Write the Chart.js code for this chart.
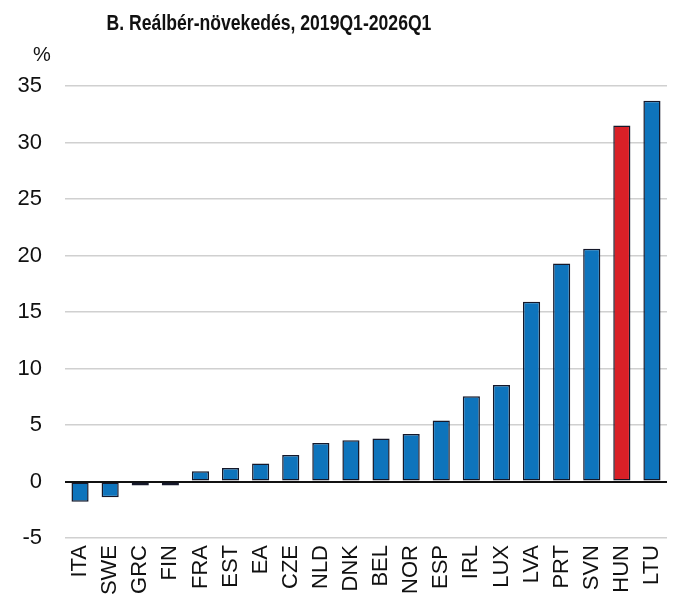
<!DOCTYPE html>
<html>
<head>
<meta charset="utf-8">
<script src="https://cdn.jsdelivr.net/npm/chart.js@4"></script>
<style>
  html, body { margin: 0; padding: 0; background: #fff; }
  #wrap { width: 690px; height: 610px; }
</style>
</head>
<body>
<div id="wrap"><canvas id="chart" width="690" height="610"></canvas></div>
<script>
const countries = ['ITA', 'SWE', 'GRC', 'FIN', 'FRA', 'EST', 'EA', 'CZE', 'NLD', 'DNK',
    'BEL', 'NOR', 'ESP', 'IRL', 'LUX', 'LVA', 'PRT', 'SVN', 'HUN', 'LTU'];
const wageGrowth = [-1.8, -1.4, -0.35, -0.35, 0.9, 1.2, 1.6, 2.35, 3.4, 3.65,
    3.8, 4.2, 5.4, 7.55, 8.55, 15.9, 19.3, 20.6, 31.5, 33.7];
const yTicks = [-5, 0, 5, 10, 15, 20, 25, 30, 35];

const titleText = 'B. Reálbér-növekedés, 2019Q1-2026Q1';
const unitText = '%';

const FONT = '"Liberation Sans Narrow", "Arial Narrow", "Liberation Sans", Arial, sans-serif';
const BLUE = '#0E74BC';
const RED = '#D92027';

const barColors = countries.map(c => c === 'HUN' ? RED : BLUE);

// title and unit label are placed by hand, like in the original
// (the original uses a narrow face, so the title is squeezed a bit)
const headerPlugin = {
    id: 'header',
    afterDraw(chart) {
        const ctx = chart.ctx;
        ctx.save();
        ctx.fillStyle = '#111';
        ctx.textBaseline = 'middle';
        ctx.textAlign = 'center';
        ctx.font = 'bold 22px ' + FONT;
        ctx.save();
        ctx.translate(269, 24);
        ctx.scale(0.8, 1);
        ctx.fillText(titleText, 0, 0);
        ctx.restore();
        ctx.font = '20px ' + FONT;
        ctx.fillText(unitText, 42, 55);
        ctx.restore();
    }
};

new Chart(document.getElementById('chart'), {
    type: 'bar',
    data: {
        labels: countries,
        datasets: [{
            data: wageGrowth,
            backgroundColor: barColors,
            borderColor: '#15182a',
            borderWidth: 1.5,
            borderSkipped: false,
            barPercentage: 0.57,
            categoryPercentage: 1
        }]
    },
    options: {
        responsive: false,
        animation: false,
        layout: { padding: { top: 86, right: 23, left: 0, bottom: 0 } },
        plugins: {
            legend: { display: false },
            tooltip: { enabled: false },
            title: { display: false }
        },
        scales: {
            x: {
                grid: { display: false, drawTicks: false },
                border: { display: false },
                ticks: {
                    color: '#111',
                    font: { family: FONT, size: 22 },
                    maxRotation: 90,
                    minRotation: 90,
                    padding: 7,
                    autoSkip: false
                },
                afterFit(scale) { scale.height = 72; }
            },
            y: {
                min: -5,
                max: 35,
                afterBuildTicks(scale) {
                    scale.ticks = yTicks.map(v => ({ value: v }));
                },
                grid: {
                    drawTicks: false,
                    lineWidth: ctx => ctx.tick && ctx.tick.value === 0 ? 2 : 1.5,
                    color: ctx => ctx.tick && ctx.tick.value === 0 ? '#111' : '#d0d0d0'
                },
                border: { display: false },
                ticks: {
                    color: '#111',
                    font: { family: FONT, size: 22 },
                    padding: 23
                },
                afterFit(scale) { scale.width = 65; }
            }
        }
    },
    plugins: [headerPlugin]
});
</script>
</body>
</html>
